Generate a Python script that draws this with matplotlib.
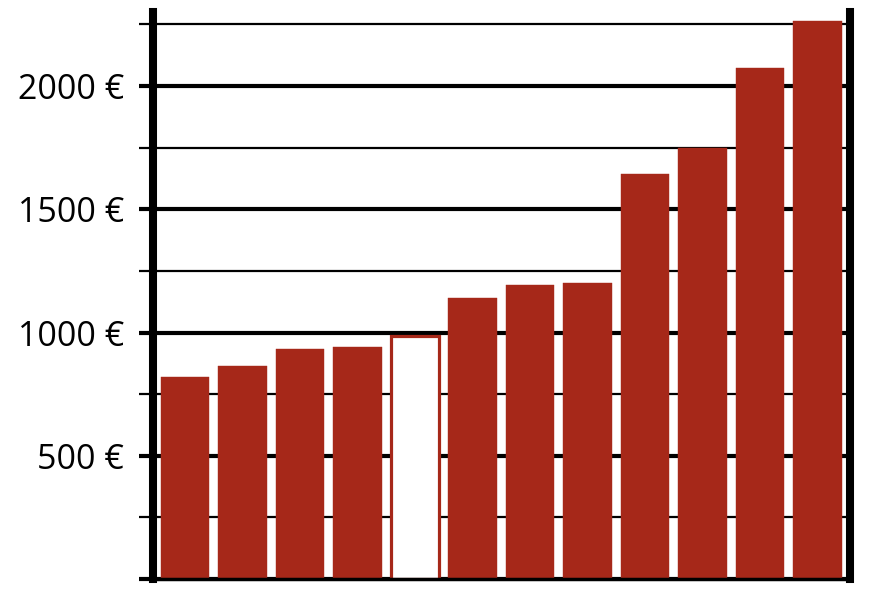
import matplotlib
matplotlib.use("Agg")
import matplotlib.pyplot as plt
from matplotlib.ticker import FuncFormatter, MultipleLocator

plt.rcParams['font.family'] = ['Open Sans', 'DejaVu Sans']

values = [820, 864, 934, 940, 984, 1141, 1193, 1201, 1644, 1750, 2072, 2264]
highlight_index = 4
bar_color = '#A62819'

fig = plt.figure(figsize=(8.72, 5.97), dpi=100)
ax = fig.add_axes([0.1755, 0.0303, 0.7993, 0.9493])

x = list(range(len(values)))
for i, v in enumerate(values):
    if i == highlight_index:
        ax.bar(i, v, width=0.845, color='white', edgecolor=bar_color, linewidth=2.3, zorder=3)
    else:
        ax.bar(i, v, width=0.845, color=bar_color, edgecolor=bar_color, linewidth=0.3, zorder=3)

ax.set_xlim(-0.56, len(values) - 1 + 0.57)
ax.set_ylim(0, 2300)

ax.yaxis.set_major_locator(MultipleLocator(500))
ax.yaxis.set_minor_locator(MultipleLocator(250))
ax.yaxis.set_major_formatter(FuncFormatter(lambda v, p: '' if v == 0 else f'{int(v)} €'))
ax.set_xticks([])

ax.grid(axis='y', which='major', color='black', linewidth=3.0, zorder=1)
ax.grid(axis='y', which='minor', color='black', linewidth=1.6, zorder=1)
ax.set_axisbelow(True)

ax.tick_params(axis='y', which='major', direction='out', length=10, width=3.0,
               labelsize=24.5, pad=11, colors='black')
ax.tick_params(axis='y', which='minor', direction='out', length=10, width=1.6)
ax.tick_params(axis='x', length=0)

for side in ['left', 'right']:
    ax.spines[side].set_linewidth(5.8)
    ax.spines[side].set_zorder(5)
ax.spines['bottom'].set_linewidth(2.5)
ax.spines['bottom'].set_zorder(5)
ax.spines['top'].set_visible(False)

fig.savefig('out.png', dpi=100)
